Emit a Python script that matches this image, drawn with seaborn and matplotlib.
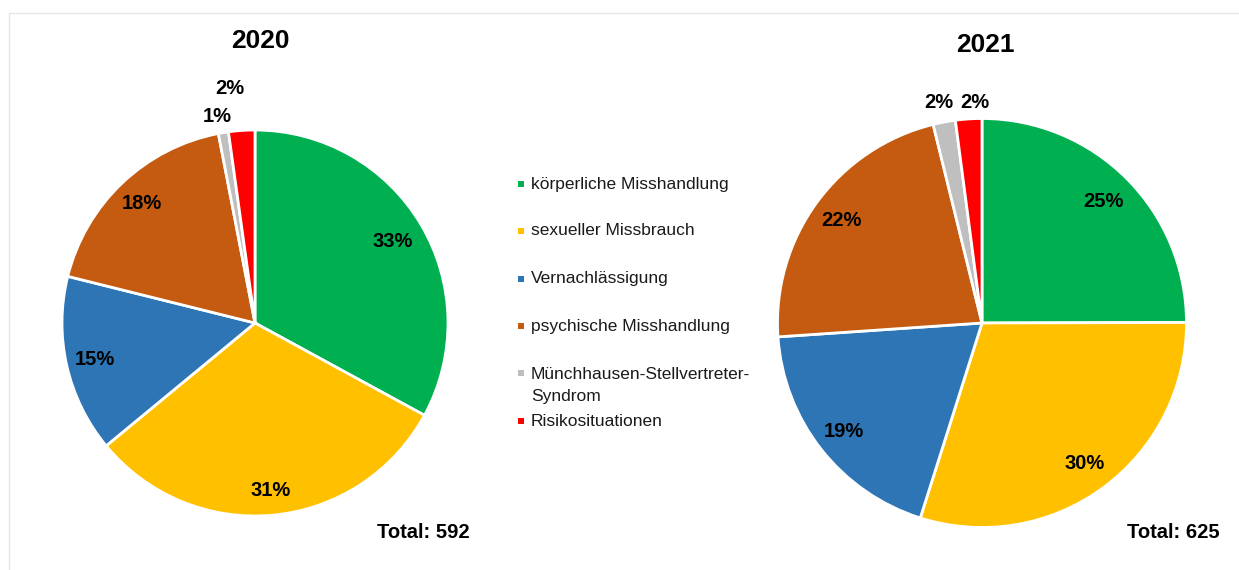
import numpy as np
import matplotlib
matplotlib.use("Agg")
import matplotlib.pyplot as plt
from matplotlib.patches import Rectangle
from matplotlib.lines import Line2D
import seaborn as sns

# ---------------- data ----------------
categories = ["körperliche Misshandlung", "sexueller Missbrauch", "Vernachlässigung",
              "psychische Misshandlung", "Münchhausen-Stellvertreter-\nSyndrom", "Risikosituationen"]
values_2020 = [195, 184, 88, 107, 5, 13]
values_2021 = [156, 187, 119, 139, 11, 13]
years = ["2020", "2021"]
totals = [592, 625]
colors = ["#00B050", "#FFC000", "#2E75B6", "#C55A11", "#BFBFBF", "#FF0000"]

sns.set_theme(style="white")
plt.rcParams['font.family'] = ['Liberation Sans', 'DejaVu Sans']

W, H = 1239, 570
fig = plt.figure(figsize=(W / 100, H / 100), dpi=100)
fig.patch.set_facecolor("white")

def fx(px):
    return px / W

def fy(py):
    return 1 - py / H

# faint frame lines
fig.add_artist(Line2D([fx(9), 1], [fy(13), fy(13)], color="#e6e6e6", lw=1))
fig.add_artist(Line2D([fx(9), fx(9)], [fy(13), 0], color="#e6e6e6", lw=1))

# pie geometry (pixels): center x, center y, radius
geoms = [(255, 323, 193), (982, 323, 204.5)]
# label radial distance and angle offset (deg) per slice
label_r = [[0.83, 0.87, 0.85, 0.85, 1.09, 1.22],
           [0.84, 0.85, 0.86, 0.85, 1.10, 1.08]]
label_da = [[0, 0, 0, 0, 1.0, 2.3],
            [0, 0, 0, 0, 0.5, -2.0]]
title_pos = [(260, 41), (985, 45)]
total_pos = [(470, 532), (1220, 532)]

for i, vals in enumerate([values_2020, values_2021]):
    cx, cy, R = geoms[i]
    ax = fig.add_axes([fx(cx - R), fy(cy + R), 2 * R / W, 2 * R / H])
    wedges, _ = ax.pie(vals, colors=colors, startangle=90, counterclock=False,
                       radius=1, wedgeprops=dict(edgecolor="white", linewidth=2))
    ax.set_xlim(-1, 1)
    ax.set_ylim(-1, 1)
    ax.set_aspect("auto")
    ax.axis("off")
    tot = sum(vals)
    for j, w in enumerate(wedges):
        th = np.deg2rad((w.theta1 + w.theta2) / 2 + label_da[i][j])
        r = label_r[i][j]
        pct = 100 * vals[j] / tot
        ax.text(r * np.cos(th), r * np.sin(th), f"{pct:.0f}%", ha="center", va="center",
                fontsize=14.5, fontweight="bold", color="black", clip_on=False)
    tx, ty = title_pos[i]
    fig.text(fx(tx), fy(ty), years[i], ha="center", va="center", fontsize=19,
             fontweight="bold", color="black")
    ox, oy = total_pos[i]
    fig.text(fx(ox), fy(oy), f"Total: {totals[i]}", ha="right", va="center",
             fontsize=14.5, fontweight="bold", color="black")

# legend (manual)
leg_y = [184, 231, 279, 326, 373, 421]
msize = 6
for k, (lab, col) in enumerate(zip(categories, colors)):
    y = leg_y[k]
    fig.add_artist(Rectangle((fx(521 - msize / 2), fy(y + msize / 2)), msize / W, msize / H,
                             facecolor=col, edgecolor="none", transform=fig.transFigure))
    if "\n" in lab:
        fig.text(fx(531), fy(y - 6), lab, ha="left", va="top", fontsize=12.5,
                 color="#1a1a1a", linespacing=1.6)
    else:
        fig.text(fx(531), fy(y), lab, ha="left", va="center", fontsize=12.5, color="#1a1a1a")

fig.savefig("out.png", dpi=100, facecolor="white")
